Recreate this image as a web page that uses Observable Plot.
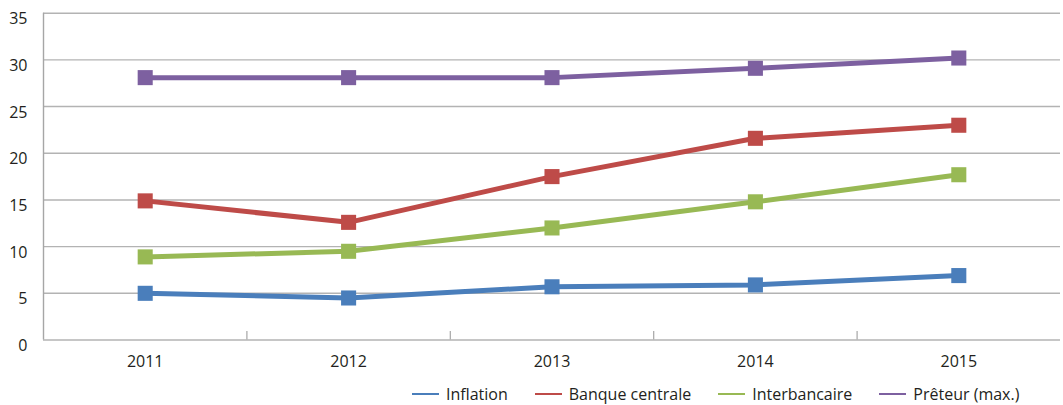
<!DOCTYPE html>
<html>
<head>
<meta charset="utf-8">
<script src="https://cdn.jsdelivr.net/npm/d3@7"></script>
<script src="https://cdn.jsdelivr.net/npm/@observablehq/plot@0.6"></script>
<style>
  html, body { margin: 0; padding: 0; background: #fff; }
  body { width: 1063px; height: 405px; overflow: hidden; font-family: "Open Sans", "Noto Sans", sans-serif; }
  #legend { display: flex; align-items: center; margin-left: 412px; margin-top: 12px; font-size: 16px; line-height: 20px; color: #231f20; }
  #legend .item { display: flex; align-items: center; margin-right: 27px; }
  #legend .sw { width: 27px; height: 2.5px; margin-right: 7px; }
</style>
</head>
<body>
<div id="chart"></div>
<div id="legend"></div>
<script>
const years = [2011, 2012, 2013, 2014, 2015];
const seriesNames = ["Inflation", "Banque centrale", "Interbancaire", "Prêteur (max.)"];
const inflation = [5.0, 4.5, 5.7, 5.9, 6.9];
const banqueCentrale = [14.9, 12.6, 17.5, 21.6, 23.0];
const interbancaire = [8.9, 9.5, 12.0, 14.8, 17.7];
const preteur = [28.1, 28.1, 28.1, 29.1, 30.2];
const colors = ["#4a7ebb", "#be4b48", "#98b954", "#7d60a0"];
const yTicks = [0, 5, 10, 15, 20, 25, 30, 35];
const bandEdges = [2011.5, 2012.5, 2013.5, 2014.5];

const allValues = [inflation, banqueCentrale, interbancaire, preteur];
const data = [];
seriesNames.forEach((name, s) => {
  years.forEach((yr, i) => data.push({series: name, year: yr, value: allValues[s][i]}));
});

const chart = Plot.plot({
  width: 1063,
  height: 372,
  marginLeft: 43,
  marginRight: 3,
  marginTop: 12.7,
  marginBottom: 32.5,
  style: {fontFamily: "'Open Sans', 'Noto Sans', sans-serif", color: "#231f20", background: "#fff"},
  x: {type: "linear", domain: [2010.5, 2015.5]},
  y: {domain: [0, 35]},
  color: {domain: seriesNames, range: colors},
  marks: [
    Plot.gridY(yTicks, {stroke: "#b3b3b3", strokeOpacity: 1, strokeWidth: 1.4}),
    Plot.ruleX([2010.5], {y1: 0, y2: 35, stroke: "#a6a6a6", strokeWidth: 1.4}),
    Plot.ruleX(bandEdges, {y1: 0, y2: 0.9, stroke: "#a6a6a6", strokeWidth: 1.2}),
    Plot.axisY(yTicks, {tickSize: 0, tickPadding: 16, fontSize: 16, dy: 6, anchor: "left", label: null}),
    Plot.axisX(years, {tickSize: 0, tickPadding: 16, fontSize: 16, tickFormat: d => String(d), label: null}),
    Plot.line(data, {x: "year", y: "value", z: "series", stroke: "series", strokeWidth: 5, curve: "linear"}),
    Plot.dot(data, {x: "year", y: "value", fill: "series", symbol: "square", r: 8.5, stroke: "none"})
  ]
});
document.getElementById("chart").appendChild(chart);

const legend = document.getElementById("legend");
seriesNames.forEach((name, i) => {
  const item = document.createElement("div");
  item.className = "item";
  const sw = document.createElement("span");
  sw.className = "sw";
  sw.style.background = colors[i];
  const t = document.createElement("span");
  t.textContent = name;
  item.appendChild(sw);
  item.appendChild(t);
  legend.appendChild(item);
});
</script>
</body>
</html>
